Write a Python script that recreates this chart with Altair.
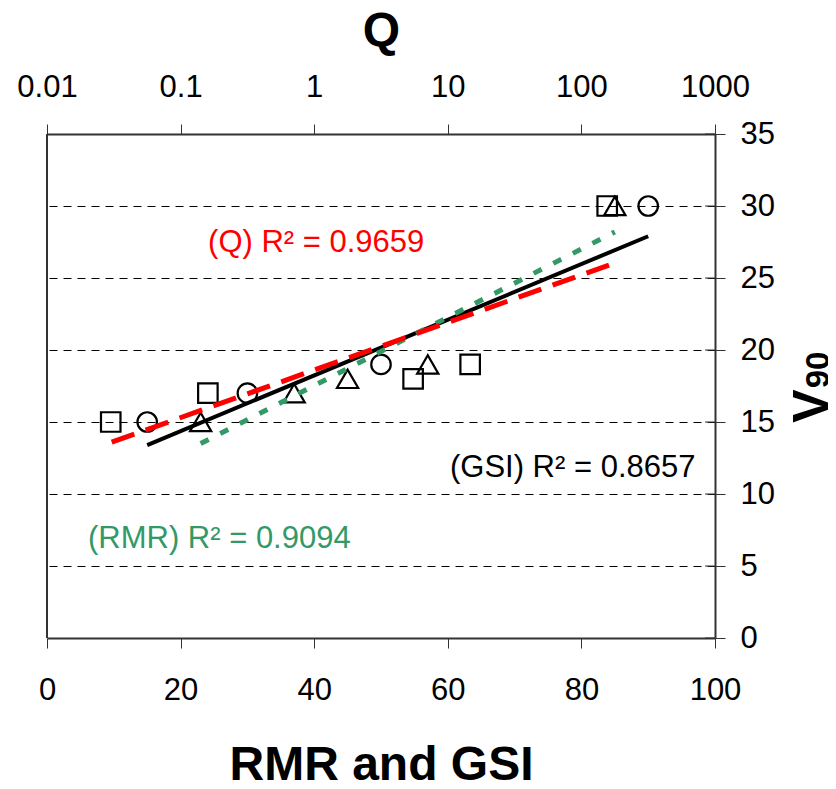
import altair as alt
import pandas as pd

# ---- data ----
# Q (top log axis) -> open squares
q_vals = [0.03, 0.16, 5.5, 14.7, 156]
q_v90 = [15, 17, 18, 19, 30]
# RMR (bottom axis) -> open triangles
rmr_vals = [23, 37, 45, 57, 85]
rmr_v90 = [15, 17, 18, 19, 30]
# GSI (bottom axis) -> open circles
gsi_vals = [15, 30, 50, 90]
gsi_v90 = [15, 17, 19, 30]

# regression line end points
q_fit_x = [0.0305, 161]
q_fit_y = [13.6, 25.9]
rmr_fit_x = [23, 85]
rmr_fit_y = [13.5, 28.2]
gsi_fit_x = [15, 90]
gsi_fit_y = [13.4, 27.9]

# ticks
x_ticks = [0, 20, 40, 60, 80, 100]
q_ticks = [0.01, 0.1, 1, 10, 100, 1000]
y_ticks = [0, 5, 10, 15, 20, 25, 30, 35]

# annotations
ann_text = ["(Q) R\u00b2 = 0.9659", "(GSI) R\u00b2 = 0.8657", "(RMR) R\u00b2 = 0.9094"]
ann_x = [40.3, 78.7, 25.8]
ann_y = [27.4, 11.8, 6.9]
ann_color = ["#FF0000", "#000000", "#339966"]

W, H = 668, 504
FONT = "Liberation Sans"

# ---- encodings ----
axis_common = dict(
    domainColor="#333333", domainWidth=2, tickColor="#333333", tickWidth=1,
    tickSize=10, labelFont=FONT, labelFontSize=31, labelColor="black",
    labelFlush=False, labelOverlap=False,
    titleFont=FONT, titleFontSize=48, titleFontWeight="bold", titleColor="black",
)

X = alt.X("x:Q", scale=alt.Scale(domain=[0, 100], nice=False, zero=False),
          axis=alt.Axis(orient="bottom", values=x_ticks, title="RMR and GSI",
                        labelPadding=27, titleY=141, titleBaseline="alphabetic",
                        grid=False, **axis_common))
XQ = alt.X("q:Q", scale=alt.Scale(type="log", domain=[0.01, 1000], nice=False),
           axis=alt.Axis(orient="top", values=q_ticks, format="~g", title="Q",
                         labelPadding=21, titleY=-89, titleBaseline="alphabetic",
                         grid=False, **axis_common))
Y = alt.Y("y:Q", scale=alt.Scale(domain=[0, 35], nice=False),
          axis=alt.Axis(orient="right", values=y_ticks, title=None, labelPadding=15,
                        grid=True, gridColor="black", gridWidth=1, gridDash=[8, 6],
                        gridOpacity={"condition": {"test": "datum.value == 0 || datum.value == 35",
                                                   "value": 0}, "value": 1},
                        **axis_common))

gsi_df = pd.DataFrame({"x": gsi_vals, "y": gsi_v90})
rmr_df = pd.DataFrame({"x": rmr_vals, "y": rmr_v90})
q_df = pd.DataFrame({"q": q_vals, "y": q_v90})

gsi_fit = pd.DataFrame({"x": gsi_fit_x, "y": gsi_fit_y})
rmr_fit = pd.DataFrame({"x": rmr_fit_x, "y": rmr_fit_y})
q_fit = pd.DataFrame({"q": q_fit_x, "y": q_fit_y})

ann_df = pd.DataFrame({"x": ann_x, "y": ann_y, "t": ann_text, "c": ann_color})

circles = alt.Chart(gsi_df).mark_point(shape="circle", filled=False, size=380,
                                       strokeWidth=2.2, color="black", opacity=1).encode(x=X, y=Y)
triangles = alt.Chart(rmr_df).mark_point(shape="triangle-up", filled=False, size=450,
                                         strokeWidth=2.2, color="black", opacity=1).encode(x=X, y=Y)
gsi_line = alt.Chart(gsi_fit).mark_line(color="black", strokeWidth=4).encode(x=X, y=Y)
rmr_line = alt.Chart(rmr_fit).mark_line(color="#339966", strokeWidth=5,
                                        strokeDash=[9, 13]).encode(x=X, y=Y)
ann = alt.Chart(ann_df).mark_text(font=FONT, fontSize=31, align="center",
                                  baseline="middle").encode(
    x=X, y=Y, text="t:N", color=alt.Color("c:N", scale=None))

inner_ticks = alt.Chart(pd.DataFrame({"y": y_ticks})).mark_rule(
    color="#333333", strokeWidth=1).encode(y=Y, x=alt.value(W - 10), x2=alt.value(W))

left_frame = alt.Chart(pd.DataFrame({"y": [0]})).mark_rule(
    color="#333333", strokeWidth=2).encode(x=alt.value(0), y=alt.value(0), y2=alt.value(H))

title_parts = ["V", "90"]
v_title = alt.Chart(pd.DataFrame({"t": [title_parts[0]]})).mark_text(
    font=FONT, fontSize=50, fontWeight="bold", angle=270, align="center",
    baseline="middle", color="black").encode(text="t:N", x=alt.value(766), y=alt.value(272))
sub_title = alt.Chart(pd.DataFrame({"t": [title_parts[1]]})).mark_text(
    font=FONT, fontSize=33, fontWeight="bold", angle=270, align="center",
    baseline="middle", color="black").encode(text="t:N", x=alt.value(772), y=alt.value(236))

layer_a = alt.layer(left_frame, inner_ticks, circles, triangles, gsi_line, rmr_line,
                    ann, v_title, sub_title)

squares = alt.Chart(q_df).mark_point(shape="square", filled=False, size=380,
                                     strokeWidth=2.2, color="black", opacity=1).encode(x=XQ, y=Y)
q_line = alt.Chart(q_fit).mark_line(color="#FF0000", strokeWidth=5,
                                    strokeDash=[24, 12]).encode(x=XQ, y=Y)
layer_b = alt.layer(squares, q_line)

chart = alt.layer(layer_a, layer_b).resolve_scale(x="independent").properties(
    width=W, height=H,
    autosize=alt.AutoSizeParams(type="none"),
    padding={"left": 39, "top": 126, "right": 113, "bottom": 143},
).configure_view(stroke="#333333", strokeWidth=2).configure(background="white")

chart.save("out.html", embed_options={"renderer": "svg", "actions": False})
